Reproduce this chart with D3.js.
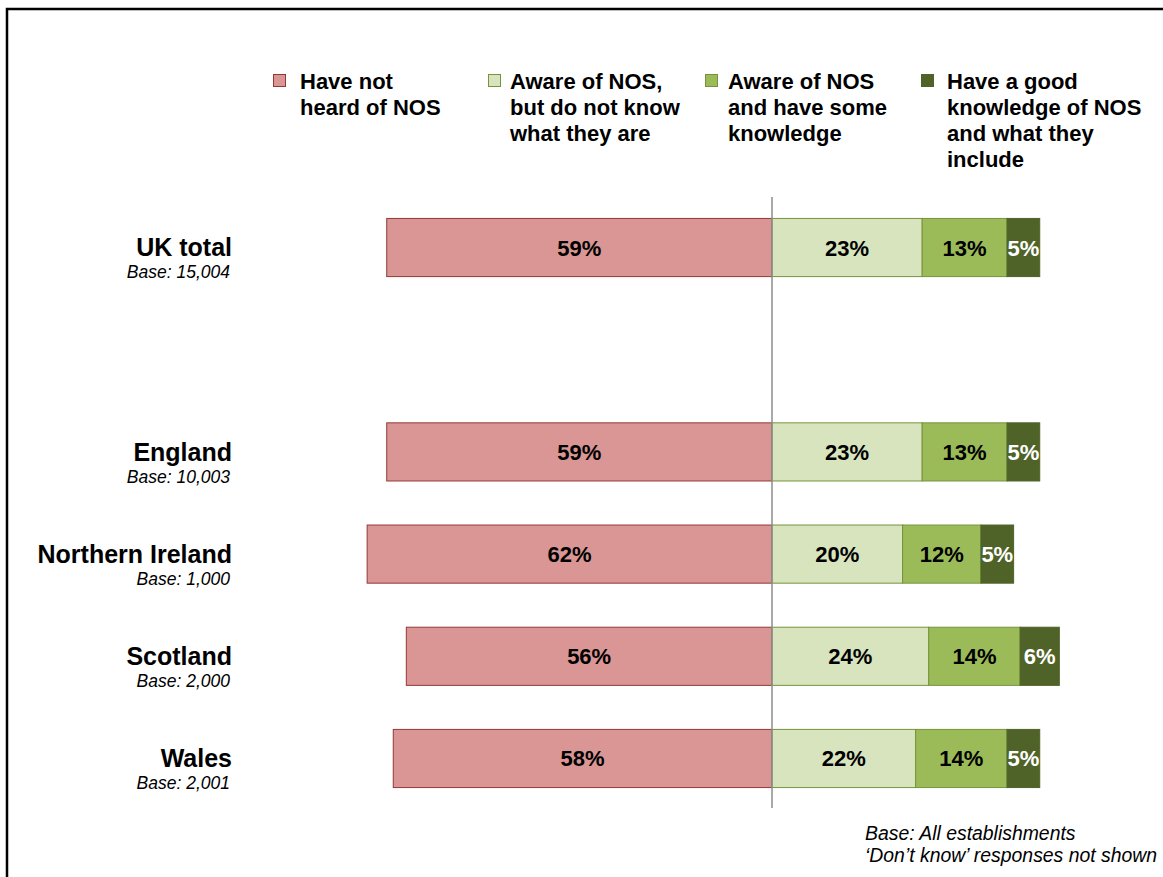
<!DOCTYPE html>
<html>
<head>
<meta charset="utf-8">
<script src="https://cdn.jsdelivr.net/npm/d3@7/dist/d3.min.js"></script>
<style>
  html, body { margin: 0; padding: 0; background: #fff; }
  svg { display: block; }
</style>
</head>
<body>
<svg id="chart" width="1163" height="877"></svg>
<script>
// Awareness of National Occupational Standards (NOS), by nation
const categories = ["UK total", "England", "Northern Ireland", "Scotland", "Wales"];
const bases = ["Base: 15,004", "Base: 10,003", "Base: 1,000", "Base: 2,000", "Base: 2,001"];
// row slot of each category (slot 1 is left empty as a spacer under the UK total)
const slots = [0, 2, 3, 4, 5];

const notHeard = [59, 59, 62, 56, 58];
const awareNotKnow = [23, 23, 20, 24, 22];
const someKnowledge = [13, 13, 12, 14, 14];
const goodKnowledge = [5, 5, 5, 6, 5];

const seriesNames = [
  ["Have not", "heard of NOS"],
  ["Aware of NOS,", "but do not know", "what they are"],
  ["Aware of NOS", "and have some", "knowledge"],
  ["Have a good", "knowledge of NOS", "and what they", "include"]
];
const footnotes = ["Base: All establishments", "\u2018Don\u2019t know\u2019 responses not shown"];

const fills = ["#D99694", "#D7E4BD", "#9BBB59", "#4F6228"];
const strokes = ["#953735", "#77933C", "#77933C", "#4F6228"];
const labelColors = ["#000", "#000", "#000", "#fff"];

const svg = d3.select("#chart");
const font = "Liberation Sans, Arial, Helvetica, sans-serif";

// outer frame
svg.append("rect")
  .attr("x", 7).attr("y", 9)
  .attr("width", 1200).attr("height", 900)
  .attr("fill", "none").attr("stroke", "#000").attr("stroke-width", 2.5);

const x = d3.scaleLinear().domain([-100, 100]).range([772 - 653, 772 + 653]);
const y = d3.scaleBand().domain(d3.range(6)).range([198, 808])
  .paddingInner(0.431).paddingOuter(0.2);

// build segments: negative side for "not heard", positive stack for the others
const rows = categories.map((c, i) => {
  const vals = [notHeard[i], awareNotKnow[i], someKnowledge[i], goodKnowledge[i]];
  const segs = [{ k: 0, v: vals[0], x0: -vals[0], x1: 0 }];
  let acc = 0;
  for (let k = 1; k < 4; k++) {
    segs.push({ k, v: vals[k], x0: acc, x1: acc + vals[k] });
    acc += vals[k];
  }
  return { name: c, base: bases[i], slot: slots[i], segs };
});

const g = svg.append("g");
const row = g.selectAll("g.row").data(rows).join("g")
  .attr("class", "row")
  .attr("transform", d => `translate(0,${y(d.slot)})`);

row.selectAll("rect").data(d => d.segs).join("rect")
  .attr("x", s => x(s.x0))
  .attr("y", 0)
  .attr("width", s => x(s.x1) - x(s.x0))
  .attr("height", y.bandwidth())
  .attr("fill", s => fills[s.k])
  .attr("stroke", s => strokes[s.k])
  .attr("stroke-width", 1);

row.selectAll("text.val").data(d => d.segs).join("text")
  .attr("class", "val")
  .attr("x", s => (x(s.x0) + x(s.x1)) / 2)
  .attr("y", y.bandwidth() / 2 + 8)
  .attr("text-anchor", "middle")
  .attr("font-family", font)
  .attr("font-weight", "bold")
  .attr("font-size", 22)
  .attr("fill", s => labelColors[s.k])
  .text(s => s.v + "%");

// category labels
row.append("text")
  .attr("x", 232).attr("y", 38)
  .attr("text-anchor", "end")
  .attr("font-family", font).attr("font-weight", "bold").attr("font-size", 25)
  .attr("fill", "#000")
  .text(d => d.name);
row.append("text")
  .attr("x", 230).attr("y", 60)
  .attr("text-anchor", "end")
  .attr("font-family", font).attr("font-style", "italic").attr("font-size", 17.5)
  .attr("fill", "#000")
  .text(d => d.base);

// zero line
svg.append("line")
  .attr("x1", x(0)).attr("x2", x(0))
  .attr("y1", 197).attr("y2", 808)
  .attr("stroke", "#8c8c8c").attr("stroke-width", 1.5);

// legend
const swatchX = [273, 488, 705, 921];
const legendTextX = [300, 510, 728, 947];
const leg = svg.selectAll("g.leg").data(seriesNames).join("g")
  .attr("class", "leg");
leg.append("rect")
  .attr("x", (d, i) => swatchX[i] + 0.5).attr("y", 74.5)
  .attr("width", 12).attr("height", 12)
  .attr("fill", (d, i) => fills[i]).attr("stroke", (d, i) => strokes[i]);
leg.append("text")
  .attr("font-family", font).attr("font-weight", "bold").attr("font-size", 22)
  .attr("fill", "#000")
  .each(function (d, i) {
    d3.select(this).selectAll("tspan").data(d).join("tspan")
      .attr("x", legendTextX[i]).attr("y", (t, j) => 89 + j * 26)
      .text(t => t);
  });

// footnote
svg.append("text")
  .attr("font-family", font).attr("font-style", "italic").attr("font-size", 19.4)
  .attr("fill", "#000")
  .selectAll("tspan").data(footnotes).join("tspan")
  .attr("x", 865).attr("y", (t, j) => 840 + j * 22)
  .text(t => t);
</script>
</body>
</html>
